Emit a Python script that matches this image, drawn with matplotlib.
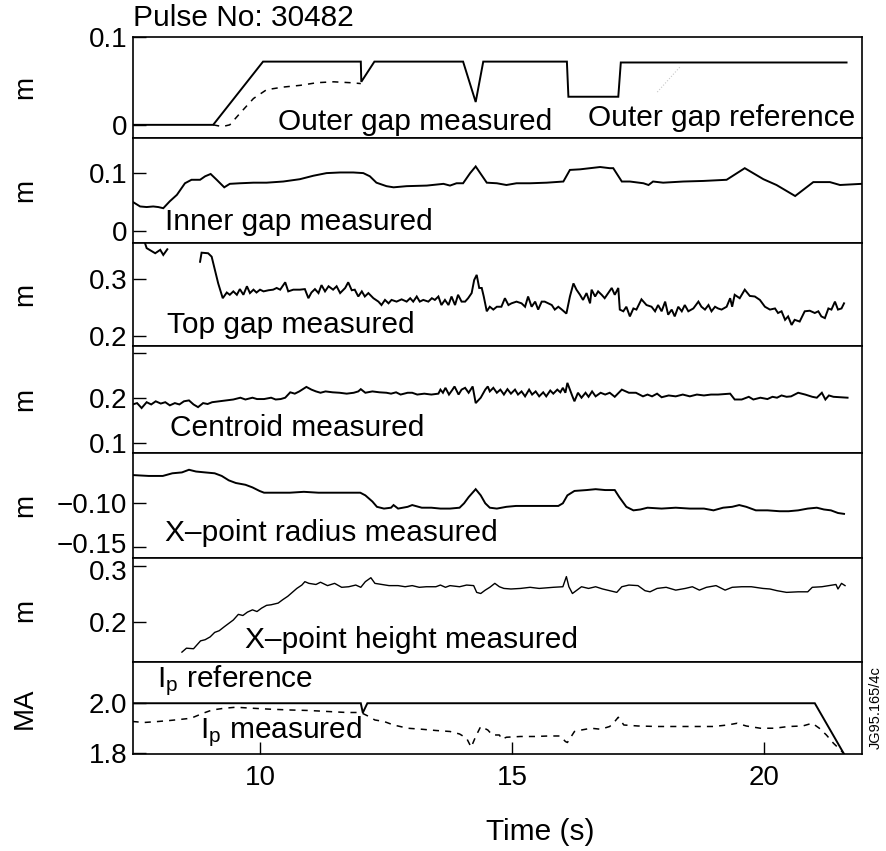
#!/usr/bin/env python3
# Pulse 30482 shape-control traces: seven stacked panels sharing the time axis.
# Values (approximate).

import matplotlib
matplotlib.use("Agg")
import matplotlib.pyplot as plt
from matplotlib.transforms import ScaledTranslation
import numpy as np

plt.rcParams["font.family"] = ["Liberation Sans", "DejaVu Sans"]
plt.rcParams["mathtext.fontset"] = "custom"
plt.rcParams["mathtext.rm"] = "Liberation Sans"
plt.rcParams["mathtext.it"] = "Liberation Sans:italic"

FS = 20      # tick labels / units
FS_TXT = 21.5  # captions, title, x label

# ---------------- data: (time s, value) ----------------
outer_ref = [(7.48, 0.0), (9.07, 0.0), (10.06, 0.072), (12.00, 0.072), (12.01, 0.049),
             (12.27, 0.072), (14.03, 0.072), (14.28, 0.026), (14.43, 0.072), (16.09, 0.072),
             (16.12, 0.032), (17.11, 0.032), (17.16, 0.071), (21.64, 0.071)]
outer_meas = [(9.07, 0.0), (9.25, -0.002), (9.40, 0.0), (9.60, 0.013), (9.87, 0.030),
              (10.13, 0.040), (10.46, 0.043), (10.80, 0.045), (11.13, 0.048), (11.46, 0.049),
              (11.79, 0.048), (12.00, 0.047)]

inner_gap = [(7.49, 0.049), (7.62, 0.042), (7.75, 0.041), (7.88, 0.042), (7.98, 0.041),
             (8.08, 0.039), (8.21, 0.051), (8.35, 0.062), (8.51, 0.082), (8.64, 0.088),
             (8.81, 0.088), (8.91, 0.094), (9.02, 0.098), (9.14, 0.088), (9.29, 0.075),
             (9.40, 0.081), (9.60, 0.082), (9.87, 0.083), (10.13, 0.083), (10.46, 0.085),
             (10.79, 0.089), (11.06, 0.095), (11.32, 0.0995), (11.59, 0.1006), (11.85, 0.1006),
             (12.05, 0.0995), (12.18, 0.094), (12.31, 0.083), (12.51, 0.077), (12.65, 0.075),
             (12.91, 0.077), (13.31, 0.078), (13.64, 0.081), (13.77, 0.078), (13.90, 0.082),
             (14.03, 0.082), (14.17, 0.0995), (14.28, 0.111), (14.37, 0.0995), (14.50, 0.083),
             (14.70, 0.082), (14.89, 0.079), (15.09, 0.082), (15.36, 0.082), (15.69, 0.083),
             (16.02, 0.085), (16.15, 0.105), (16.35, 0.106), (16.55, 0.108), (16.75, 0.110),
             (16.94, 0.108), (17.01, 0.108), (17.18, 0.085), (17.34, 0.085), (17.61, 0.082),
             (17.71, 0.079), (17.80, 0.085), (18.00, 0.083), (18.40, 0.085), (18.80, 0.086),
             (19.26, 0.088), (19.62, 0.108), (19.99, 0.089), (20.25, 0.079), (20.62, 0.060),
             (20.98, 0.084), (21.31, 0.084), (21.51, 0.079), (21.94, 0.081)]

top_gap = [(7.72, 0.362), (7.75, 0.354), (7.92, 0.345), (8.02, 0.351), (8.08, 0.342),
           (8.16, 0.352), (8.50, np.nan),
           (8.81, 0.330), (8.84, 0.346), (8.97, 0.345), (9.04, 0.339), (9.17, 0.292),
           (9.26, 0.266), (9.34, 0.276), (9.40, 0.272), (9.47, 0.278), (9.54, 0.272),
           (9.60, 0.282), (9.67, 0.272), (9.74, 0.287), (9.80, 0.275), (9.87, 0.281),
           (9.93, 0.276), (10.00, 0.281), (10.07, 0.278), (10.17, 0.280), (10.26, 0.281),
           (10.33, 0.284), (10.40, 0.281), (10.50, 0.294), (10.56, 0.278), (10.66, 0.281),
           (10.79, 0.281), (10.89, 0.282), (10.96, 0.266), (11.02, 0.276), (11.09, 0.282),
           (11.16, 0.275), (11.22, 0.289), (11.29, 0.278), (11.36, 0.287), (11.45, 0.281),
           (11.52, 0.287), (11.59, 0.275), (11.69, 0.284), (11.75, 0.294), (11.82, 0.280),
           (11.88, 0.281), (11.95, 0.269), (12.02, 0.278), (12.08, 0.269), (12.15, 0.275),
           (12.25, 0.266), (12.35, 0.260), (12.41, 0.254), (12.48, 0.263), (12.55, 0.257),
           (12.61, 0.263), (12.71, 0.260), (12.81, 0.264), (12.91, 0.260), (12.98, 0.266),
           (13.04, 0.260), (13.11, 0.269), (13.17, 0.260), (13.24, 0.263), (13.34, 0.260),
           (13.41, 0.266), (13.47, 0.263), (13.54, 0.269), (13.60, 0.254), (13.67, 0.263),
           (13.74, 0.254), (13.80, 0.269), (13.87, 0.254), (13.93, 0.272), (14.00, 0.260),
           (14.07, 0.260), (14.13, 0.266), (14.20, 0.275), (14.25, 0.298), (14.30, 0.307),
           (14.35, 0.284), (14.40, 0.284), (14.44, 0.269), (14.50, 0.243), (14.56, 0.251),
           (14.63, 0.246), (14.70, 0.251), (14.79, 0.251), (14.86, 0.266), (14.93, 0.254),
           (14.99, 0.257), (15.09, 0.260), (15.19, 0.257), (15.26, 0.251), (15.32, 0.269),
           (15.39, 0.251), (15.46, 0.260), (15.52, 0.246), (15.59, 0.260), (15.65, 0.260),
           (15.72, 0.257), (15.79, 0.254), (15.85, 0.246), (15.92, 0.251), (15.99, 0.246),
           (16.08, 0.239), (16.15, 0.269), (16.22, 0.292), (16.28, 0.281), (16.35, 0.272),
           (16.41, 0.263), (16.48, 0.275), (16.55, 0.257), (16.58, 0.281), (16.65, 0.269),
           (16.71, 0.278), (16.78, 0.272), (16.84, 0.266), (16.91, 0.275), (16.98, 0.284),
           (17.04, 0.272), (17.11, 0.284), (17.14, 0.246), (17.21, 0.243), (17.27, 0.251),
           (17.34, 0.234), (17.41, 0.248), (17.47, 0.246), (17.57, 0.264), (17.67, 0.254),
           (17.77, 0.251), (17.84, 0.243), (17.90, 0.254), (17.97, 0.243), (18.04, 0.260),
           (18.10, 0.237), (18.17, 0.246), (18.23, 0.234), (18.30, 0.251), (18.37, 0.243),
           (18.43, 0.254), (18.50, 0.243), (18.60, 0.248), (18.70, 0.260), (18.76, 0.251),
           (18.83, 0.246), (18.90, 0.254), (18.96, 0.243), (19.03, 0.251), (19.09, 0.248),
           (19.16, 0.246), (19.26, 0.251), (19.33, 0.266), (19.37, 0.251), (19.42, 0.272),
           (19.52, 0.266), (19.62, 0.281), (19.72, 0.270), (19.82, 0.269), (19.92, 0.263),
           (20.02, 0.251), (20.12, 0.246), (20.22, 0.248), (20.28, 0.240), (20.35, 0.243),
           (20.42, 0.228), (20.48, 0.234), (20.55, 0.219), (20.61, 0.228), (20.71, 0.225),
           (20.81, 0.243), (20.91, 0.244), (21.01, 0.240), (21.08, 0.243), (21.14, 0.234),
           (21.21, 0.231), (21.28, 0.248), (21.34, 0.246), (21.41, 0.260), (21.47, 0.246),
           (21.54, 0.248), (21.59, 0.257)]

centroid = [(7.47, 0.185), (7.56, 0.188), (7.65, 0.177), (7.75, 0.190), (7.84, 0.185),
            (7.93, 0.192), (8.03, 0.187), (8.12, 0.190), (8.21, 0.183), (8.31, 0.188),
            (8.40, 0.185), (8.49, 0.192), (8.59, 0.194), (8.68, 0.185), (8.77, 0.179),
            (8.87, 0.188), (8.96, 0.186), (9.05, 0.190), (9.19, 0.192), (9.33, 0.194),
            (9.47, 0.196), (9.61, 0.200), (9.71, 0.196), (9.85, 0.200), (9.94, 0.197),
            (10.08, 0.197), (10.22, 0.200), (10.31, 0.196), (10.41, 0.197), (10.50, 0.200),
            (10.60, 0.212), (10.69, 0.209), (10.78, 0.214), (10.92, 0.224), (11.02, 0.218),
            (11.11, 0.214), (11.20, 0.211), (11.30, 0.214), (11.44, 0.212), (11.58, 0.211),
            (11.72, 0.209), (11.86, 0.211), (11.95, 0.214), (12.00, 0.219), (12.09, 0.211),
            (12.23, 0.214), (12.37, 0.212), (12.51, 0.211), (12.60, 0.209), (12.70, 0.212),
            (12.79, 0.207), (12.93, 0.211), (13.02, 0.211), (13.12, 0.207), (13.26, 0.209),
            (13.40, 0.207), (13.54, 0.209), (13.58, 0.218), (13.63, 0.211), (13.68, 0.222),
            (13.75, 0.207), (13.82, 0.218), (13.86, 0.225), (13.94, 0.207), (14.00, 0.218),
            (14.07, 0.222), (14.14, 0.211), (14.22, 0.225), (14.28, 0.188), (14.38, 0.200),
            (14.47, 0.218), (14.52, 0.225), (14.56, 0.214), (14.63, 0.222), (14.70, 0.211),
            (14.77, 0.218), (14.84, 0.207), (14.91, 0.219), (14.98, 0.209), (15.06, 0.218),
            (15.12, 0.207), (15.19, 0.214), (15.26, 0.203), (15.34, 0.218), (15.40, 0.207),
            (15.47, 0.214), (15.54, 0.203), (15.62, 0.212), (15.68, 0.203), (15.76, 0.216),
            (15.82, 0.209), (15.90, 0.218), (15.96, 0.212), (16.01, 0.222), (16.06, 0.211),
            (16.10, 0.233), (16.15, 0.218), (16.20, 0.203), (16.24, 0.192), (16.31, 0.211),
            (16.38, 0.200), (16.46, 0.211), (16.52, 0.202), (16.59, 0.214), (16.66, 0.203),
            (16.76, 0.211), (16.85, 0.207), (16.94, 0.211), (17.04, 0.202), (17.18, 0.218),
            (17.32, 0.211), (17.46, 0.211), (17.60, 0.203), (17.69, 0.207), (17.78, 0.203),
            (17.88, 0.209), (17.97, 0.201), (18.11, 0.205), (18.25, 0.203), (18.39, 0.207),
            (18.53, 0.203), (18.67, 0.207), (18.81, 0.205), (18.95, 0.207), (19.09, 0.207),
            (19.33, 0.209), (19.42, 0.196), (19.56, 0.196), (19.70, 0.202), (19.79, 0.196),
            (19.93, 0.200), (20.07, 0.197), (20.17, 0.202), (20.26, 0.200), (20.35, 0.205),
            (20.45, 0.202), (20.54, 0.203), (20.68, 0.211), (20.82, 0.207), (20.96, 0.202),
            (21.05, 0.200), (21.15, 0.211), (21.22, 0.196), (21.29, 0.205), (21.38, 0.202),
            (21.52, 0.201), (21.66, 0.200)]

xpt_radius = [(7.47, -0.068), (7.79, -0.069), (8.07, -0.069), (8.26, -0.066), (8.45, -0.065),
              (8.59, -0.062), (8.73, -0.064), (8.91, -0.065), (9.10, -0.066), (9.24, -0.069),
              (9.38, -0.074), (9.52, -0.077), (9.71, -0.079), (9.85, -0.082), (9.99, -0.086),
              (10.08, -0.088), (10.31, -0.088), (10.59, -0.088), (10.87, -0.087), (11.16, -0.088),
              (11.44, -0.088), (11.72, -0.088), (11.99, -0.088), (12.09, -0.091), (12.23, -0.098),
              (12.32, -0.104), (12.46, -0.106), (12.60, -0.105), (12.65, -0.102), (12.74, -0.106),
              (12.93, -0.104), (13.02, -0.102), (13.21, -0.105), (13.40, -0.105), (13.58, -0.106),
              (13.77, -0.106), (13.96, -0.105), (14.05, -0.100), (14.14, -0.093), (14.28, -0.084),
              (14.38, -0.091), (14.47, -0.100), (14.56, -0.105), (14.70, -0.106), (14.89, -0.104),
              (15.08, -0.103), (15.36, -0.103), (15.64, -0.103), (15.92, -0.103), (16.01, -0.100),
              (16.10, -0.091), (16.24, -0.086), (16.48, -0.085), (16.66, -0.084), (16.85, -0.085),
              (17.04, -0.085), (17.13, -0.093), (17.27, -0.104), (17.41, -0.108), (17.55, -0.107),
              (17.69, -0.105), (17.97, -0.106), (18.25, -0.105), (18.53, -0.106), (18.81, -0.106),
              (19.00, -0.108), (19.19, -0.105), (19.37, -0.104), (19.51, -0.102), (19.65, -0.104),
              (19.84, -0.108), (20.07, -0.108), (20.31, -0.109), (20.49, -0.109), (20.68, -0.108),
              (20.87, -0.106), (21.05, -0.105), (21.19, -0.107), (21.33, -0.108), (21.47, -0.111),
              (21.59, -0.112)]

xpt_height = [(8.45, 0.147), (8.54, 0.154), (8.68, 0.153), (8.82, 0.167), (8.91, 0.169),
              (9.01, 0.174), (9.10, 0.182), (9.19, 0.185), (9.29, 0.192), (9.38, 0.198),
              (9.47, 0.204), (9.57, 0.214), (9.66, 0.212), (9.75, 0.218), (9.85, 0.222),
              (9.94, 0.219), (10.03, 0.225), (10.13, 0.230), (10.22, 0.231), (10.36, 0.234),
              (10.45, 0.240), (10.55, 0.246), (10.64, 0.253), (10.73, 0.260), (10.83, 0.266),
              (10.89, 0.272), (10.97, 0.269), (11.11, 0.267), (11.20, 0.271), (11.34, 0.265),
              (11.48, 0.269), (11.62, 0.262), (11.76, 0.263), (11.90, 0.266), (12.00, 0.262),
              (12.09, 0.272), (12.20, 0.279), (12.28, 0.269), (12.42, 0.267), (12.56, 0.265),
              (12.74, 0.265), (12.88, 0.263), (13.02, 0.265), (13.16, 0.262), (13.30, 0.263),
              (13.49, 0.263), (13.58, 0.266), (13.68, 0.262), (13.77, 0.265), (13.96, 0.263),
              (14.10, 0.266), (14.24, 0.265), (14.30, 0.253), (14.38, 0.251), (14.47, 0.257),
              (14.56, 0.262), (14.66, 0.269), (14.75, 0.263), (14.84, 0.260), (14.98, 0.259),
              (15.17, 0.260), (15.36, 0.262), (15.54, 0.260), (15.82, 0.262), (16.01, 0.263),
              (16.08, 0.281), (16.13, 0.263), (16.20, 0.251), (16.29, 0.257), (16.38, 0.263),
              (16.52, 0.260), (16.66, 0.263), (16.80, 0.259), (16.94, 0.256), (17.08, 0.253),
              (17.18, 0.263), (17.32, 0.266), (17.50, 0.265), (17.64, 0.256), (17.74, 0.254),
              (17.88, 0.260), (18.06, 0.262), (18.25, 0.257), (18.44, 0.260), (18.58, 0.263),
              (18.72, 0.257), (18.86, 0.262), (19.05, 0.265), (19.23, 0.257), (19.37, 0.262),
              (19.56, 0.263), (19.75, 0.263), (19.98, 0.260), (20.12, 0.259), (20.26, 0.256),
              (20.45, 0.253), (20.68, 0.254), (20.87, 0.254), (20.96, 0.262), (21.15, 0.263),
              (21.29, 0.265), (21.43, 0.267), (21.47, 0.259), (21.54, 0.269), (21.61, 0.265)]

ip_ref = [(7.48, 2.0), (12.00, 2.0), (12.04, 1.962), (12.13, 2.0), (21.01, 2.0), (21.61, 1.79)]
ip_meas = [(7.47, 1.927), (7.70, 1.923), (7.98, 1.927), (8.21, 1.931), (8.45, 1.936),
           (8.63, 1.940), (8.87, 1.960), (9.05, 1.973), (9.29, 1.980), (9.52, 1.984),
           (9.85, 1.980), (10.22, 1.976), (10.60, 1.973), (10.97, 1.971), (11.34, 1.967),
           (11.72, 1.963), (12.00, 1.963), (12.14, 1.949), (12.28, 1.933), (12.46, 1.927),
           (12.65, 1.913), (12.93, 1.900), (13.21, 1.896), (13.49, 1.891), (13.77, 1.887),
           (13.96, 1.877), (14.10, 1.860), (14.19, 1.824), (14.28, 1.867), (14.38, 1.907),
           (14.52, 1.893), (14.61, 1.873), (14.75, 1.873), (14.80, 1.856), (14.89, 1.864),
           (15.17, 1.867), (15.45, 1.867), (15.73, 1.869), (15.96, 1.869), (16.06, 1.847),
           (16.10, 1.843), (16.24, 1.887), (16.38, 1.893), (16.57, 1.900), (16.76, 1.896),
           (16.94, 1.907), (17.04, 1.927), (17.11, 1.944), (17.22, 1.913), (17.50, 1.909),
           (17.88, 1.907), (18.25, 1.907), (18.62, 1.907), (19.00, 1.907), (19.28, 1.913),
           (19.47, 1.920), (19.65, 1.909), (19.93, 1.900), (20.21, 1.900), (20.49, 1.907),
           (20.77, 1.909), (20.96, 1.920), (21.10, 1.900), (21.24, 1.873), (21.38, 1.840),
           (21.52, 1.813), (21.61, 1.793)]

# per-panel axis settings: ylim, ticks, tick labels, unit
ylims = [(-0.015, 0.1), (-0.021, 0.160), (0.182, 0.363), (0.077, 0.315),
         (-0.162, -0.043), (0.1295, 0.314), (1.797, 2.165)]
yticks = [[0.0, 0.1], [0.0, 0.1], [0.2, 0.3], [0.1, 0.2, 0.3],
          [-0.15, -0.10], [0.2, 0.3], [1.8, 2.0]]
yticklabels = [["0", "0.1"], ["0", "0.1"], ["0.2", "0.3"], ["0.1", "0.2", ""],
               ["\u22120.15", "\u22120.10"], ["0.2", "0.3"], ["1.8", "2.0"]]
units = ["m", "m", "m", "m", "m", "m", "MA"]
xticks = [10, 15, 20]
xlim = (7.48, 21.95)

# trace captions: panel, text, x / y in axes fraction
captions = [
    (0, "Outer gap measured", 0.199, 0.16),
    (0, "Outer gap reference", 0.624, 0.20),
    (1, "Inner gap measured", 0.044, 0.20),
    (2, "Top gap measured", 0.046, 0.20),
    (3, "Centroid measured", 0.051, 0.23),
    (4, "X\u2013point radius measured", 0.044, 0.24),
    (5, "X\u2013point height measured", 0.154, 0.21),
    (6, r"I$_\mathrm{p}$ reference", 0.033, 0.80),
    (6, r"I$_\mathrm{p}$ measured", 0.092, 0.24),
]


def xy(pairs):
    a = np.array(pairs, dtype=float)
    return a[:, 0], a[:, 1]


def nudge(fig, ax, idx, dy_px):
    # the -0.15 / 0.3 labels of adjacent panels sit very close in the scan
    lab = ax.yaxis.get_major_ticks()[idx].label1
    lab.set_transform(lab.get_transform()
                      + ScaledTranslation(0, dy_px / fig.dpi, fig.dpi_scale_trans))


def main():
    fig = plt.figure(figsize=(8.87, 8.51), dpi=100)
    gs = fig.add_gridspec(7, 1, height_ratios=[101, 105, 103, 107, 105, 104, 92],
                          left=0.150, right=0.972, top=0.9565, bottom=0.114, hspace=0)
    axes = [fig.add_subplot(gs[i]) for i in range(7)]

    solid = dict(color="black", lw=1.4, solid_joinstyle="miter")
    dashed = dict(color="black", lw=1.1, ls=(0, (4, 4)))

    axes[0].plot(*xy(outer_ref), **solid)
    axes[0].plot(*xy(outer_meas), **dashed)
    axes[1].plot(*xy(inner_gap), **solid)
    axes[2].plot(*xy(top_gap), **solid)
    axes[3].plot(*xy(centroid), **solid)
    axes[4].plot(*xy(xpt_radius), **solid)
    axes[5].plot(*xy(xpt_height), color="black", lw=1.0)
    axes[6].plot(*xy(ip_ref), **solid)
    axes[6].plot(*xy(ip_meas), **dashed)

    for i, ax in enumerate(axes):
        ax.set_xlim(*xlim)
        ax.set_ylim(*ylims[i])
        ax.set_yticks(yticks[i])
        ax.set_yticklabels(yticklabels[i])
        ax.tick_params(axis="y", direction="in", length=9, width=1.0,
                       labelsize=FS, pad=4)
        for s in ax.spines.values():
            s.set_linewidth(1.2)
        ax.set_ylabel(units[i], fontsize=FS, rotation=90, va="center", ha="center")
        ax.yaxis.set_label_coords(-0.148, 0.5)
        if i < 6:
            ax.tick_params(axis="x", bottom=False, labelbottom=False)
        else:
            ax.set_xticks(xticks)
            ax.tick_params(axis="x", direction="in", length=9, width=1.0,
                           labelsize=FS, pad=8)
            ax.set_xlabel("Time (s)", fontsize=FS_TXT)
            ax.xaxis.set_label_coords(0.558, -0.70)

    for i, txt, fx, fy in captions:
        axes[i].text(fx, fy, txt, transform=axes[i].transAxes, fontsize=FS_TXT,
                     ha="left", va="center")

    # faint pointer from the reference caption to the trace
    axes[0].plot([0.719, 0.750], [0.455, 0.703], transform=axes[0].transAxes,
                 color="#c8c8c8", lw=0.8, ls=":")

    axes[0].text(0.0, 1.19, "Pulse No: 30482", transform=axes[0].transAxes,
                 fontsize=FS_TXT, ha="left", va="center")
    fig.text(0.987, 0.169, "JG95.165/4c", rotation=90, fontsize=10.5,
             ha="center", va="center")

    nudge(fig, axes[4], 0, 4)
    nudge(fig, axes[5], 1, -4)

    fig.savefig("out.png", dpi=100)
    plt.close(fig)


if __name__ == "__main__":
    main()
